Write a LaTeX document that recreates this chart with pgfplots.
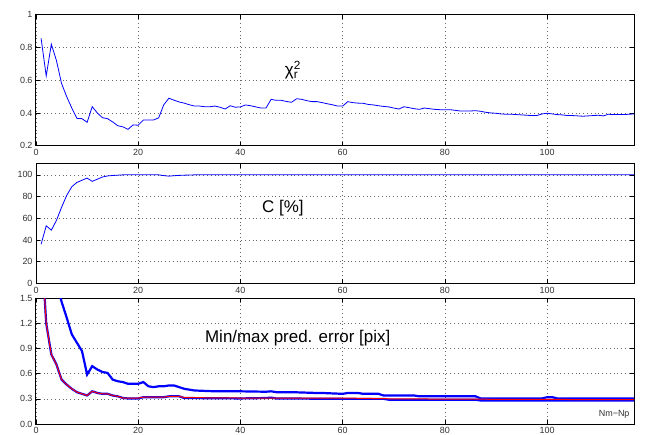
\documentclass[border=0pt]{standalone}
\usepackage{pgfplots}
\pgfplotsset{compat=1.18}
\usepackage{fontspec}
\setmainfont{Liberation Sans}

\pgfplotsset{
 mstyle/.style={
  scale only axis, width=598bp, xmin=0, xmax=117,
  xtick={0,20,40,60,80,100},
  grid=major, grid style={dash pattern=on 0.8bp off 3bp, black!60, line width=0.6bp},
  major tick length=4bp, tick align=inside, tick style={black, line width=0.6bp},
  axis line style={line width=1bp},
  tick label style={font=\fontsize{9}{10}\selectfont, text=black!80},
  /pgf/number format/assume math mode=true,
  clip=true,
 }
}

\begin{document}
\begin{tikzpicture}
\useasboundingbox (0,0) rectangle (651bp,435bp);

% top axis
\begin{axis}[mstyle, at={(36bp,289.3bp)}, anchor=south west, height=131bp,
  ymin=0.2, ymax=1, ytick={0.2,0.4,0.6,0.8,1}]
\addplot[blue, line width=0.8bp] coordinates {
(1,0.855)(2,0.626)(3,0.82)(4,0.72)(5,0.58)(6,0.50)(7,0.43)(8,0.367)(9,0.365)(10,0.343)
(11,0.438)(12,0.40)(13,0.371)(14,0.365)(15,0.345)(16,0.322)(17,0.315)(18,0.300)(19,0.327)(20,0.325)
(21,0.357)(22,0.357)(23,0.357)(24,0.37)(25,0.45)(26,0.49)(27,0.478)(28,0.467)(29,0.46)(30,0.45)
(31,0.442)(32,0.442)(33,0.438)(34,0.438)(35,0.442)(36,0.435)(37,0.424)(38,0.444)(39,0.435)(40,0.437)
(41,0.449)(42,0.444)(43,0.437)(44,0.43)(45,0.43)(46,0.483)(47,0.477)(48,0.477)(49,0.47)(50,0.465)
(51,0.487)(52,0.483)(53,0.475)(54,0.469)(55,0.469)(56,0.463)(57,0.456)(58,0.45)(59,0.442)(60,0.442)
(61,0.469)(62,0.463)(63,0.46)(64,0.459)(65,0.452)(66,0.449)(67,0.444)(68,0.44)(69,0.437)(70,0.43)
(71,0.424)(72,0.438)(73,0.432)(74,0.426)(75,0.422)(76,0.43)(77,0.426)(78,0.422)(79,0.42)(80,0.42)
(81,0.42)(82,0.416)(83,0.412)(84,0.412)(85,0.412)(86,0.414)(87,0.41)(88,0.404)(89,0.40)(90,0.398)
(91,0.394)(92,0.392)(93,0.392)(94,0.39)(95,0.388)(96,0.386)(97,0.384)(98,0.384)(99,0.394)(100,0.398)
(101,0.394)(102,0.39)(103,0.388)(104,0.384)(105,0.384)(106,0.382)(107,0.38)(108,0.382)(109,0.384)(110,0.386)
(111,0.382)(112,0.392)(113,0.39)(114,0.39)(115,0.39)(116,0.392)(117,0.394)};
\node[font=\fontsize{17}{19}\selectfont] at (axis cs:50,0.66) {χ\rlap{\textsuperscript{2}}\textsubscript{r}};
\end{axis}

% middle axis
\begin{axis}[mstyle, at={(36bp,151.7bp)}, anchor=south west, height=119.3bp,
  ymin=0, ymax=110, ytick={0,20,40,60,80,100}]
\addplot[blue, line width=0.8bp] coordinates {
(1,36)(2,53)(3,49)(4,58)(5,70)(6,81)(7,89)(8,93)(9,95)(10,97)
(11,94)(12,96)(13,98)(14,99)(15,99.4)(16,99.7)(17,100)(18,100)(19,100)(20,100)
(21,100)(22,100)(23,100)(24,100)(25,99.3)(26,98.8)(27,99.2)(28,99.5)(29,99.7)(30,99.8)
(31,100)(40,100)(50,100)(60,100)(70,100)(80,100)(90,100)(100,100)(110,100)(117,100)};
\node[font=\fontsize{17}{19}\selectfont] at (axis cs:48.3,69) {C [\%]};
\end{axis}

% bottom axis
\begin{axis}[mstyle, at={(36bp,11bp)}, anchor=south west, height=125.7bp,
  ymin=0, ymax=1.5, ytick={0,0.3,0.6,0.9,1.2,1.5},
  yticklabel style={/pgf/number format/.cd, fixed, fixed zerofill, precision=1}]
% max error
\addplot[blue, line width=2.2bp] coordinates {
(1,3.5)(2,2.6)(3,2.0)(4,1.7)(5,1.46)(6,1.27)(7,1.07)(8,0.97)(9,0.87)(10,0.59)
(11,0.69)(12,0.65)(13,0.62)(14,0.61)(15,0.53)(16,0.51)(17,0.50)(18,0.48)(19,0.48)(20,0.48)
(21,0.50)(22,0.45)(23,0.44)(24,0.45)(25,0.45)(26,0.46)(27,0.46)(28,0.44)(29,0.42)(30,0.41)
(31,0.40)(35,0.39)(40,0.39)(45,0.385)(46,0.39)(47,0.38)(50,0.38)(55,0.37)(56,0.37)(60,0.36)
(61,0.37)(63,0.37)(64,0.36)(67,0.36)(68,0.34)(74,0.34)(75,0.33)(86,0.33)(87,0.305)(99,0.305)
(100,0.32)(101,0.32)(102,0.305)(117,0.305)};
% min error (blue)
\addplot[blue, line width=2.2bp] coordinates {
(1,2.2)(2,1.2)(3,0.83)(4,0.71)(5,0.53)(6,0.47)(7,0.42)(8,0.38)(9,0.36)(10,0.34)
(11,0.39)(12,0.37)(13,0.36)(14,0.36)(15,0.34)(16,0.33)(17,0.31)(18,0.305)(19,0.305)(20,0.305)
(21,0.32)(25,0.32)(26,0.33)(28,0.33)(29,0.31)(40,0.305)(45,0.31)(46,0.315)(47,0.305)(60,0.30)
(68,0.30)(69,0.29)(86,0.29)(87,0.28)(117,0.28)};
% min error (red)
\addplot[red, line width=1bp] coordinates {
(1,2.2)(2,1.2)(3,0.83)(4,0.71)(5,0.53)(6,0.47)(7,0.42)(8,0.38)(9,0.36)(10,0.34)
(11,0.39)(12,0.37)(13,0.36)(14,0.36)(15,0.34)(16,0.33)(17,0.31)(18,0.31)(19,0.31)(20,0.31)
(21,0.32)(25,0.32)(26,0.33)(28,0.33)(29,0.315)(40,0.31)(60,0.31)(70,0.30)(90,0.295)(117,0.29)};
\node[font=\fontsize{17}{19}\selectfont] at (axis cs:51.2,1.03) {Min/max pred. error [pix]};
\node[font=\fontsize{9}{10}\selectfont, text=black!80, anchor=south east] at (rel axis cs:1,0) [xshift=-1bp, yshift=2bp] {Nm−Np};
\end{axis}
\end{tikzpicture}
\end{document}
